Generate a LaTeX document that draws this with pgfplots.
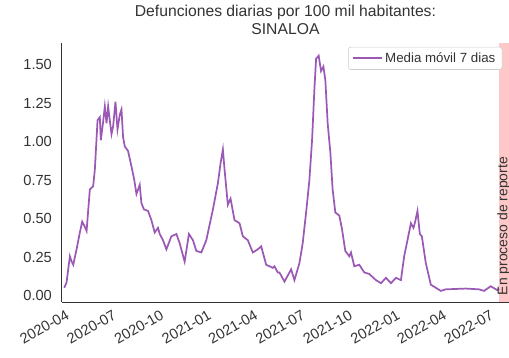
\documentclass[border=0pt]{standalone}
\usepackage{pgfplots}
\pgfplotsset{compat=1.18}
\usepackage{fontspec}
\setmainfont{Liberation Sans}
\definecolor{linea}{RGB}{155,89,182}
\definecolor{banda}{RGB}{255,200,200}
\definecolor{texto}{RGB}{51,51,51}
\begin{document}
\begin{tikzpicture}
\begin{axis}[
  scale only axis,
  width=336pt, height=195pt,
  xmin=-2, xmax=863,
  ymin=-0.045, ymax=1.643,
  axis x line*=bottom, axis y line*=left,
  axis line style={texto, line width=0.8pt},
  tick style={draw=none},
  ytick={0,0.25,0.5,0.75,1,1.25,1.5},
  yticklabel style={/pgf/number format/fixed, /pgf/number format/fixed zerofill, /pgf/number format/precision=2, xshift=-4pt},
  xtick={0,91,183,275,365,456,548,640,730,821},
  xticklabels={2020-04,2020-07,2020-10,2021-01,2021-04,2021-07,2021-10,2022-01,2022-04,2022-07},
  xticklabel style={rotate=30, anchor=north east, inner sep=1pt, yshift=-4pt},
  /pgf/number format/assume math mode=true,
  tick label style={font=\fontsize{11}{13}\selectfont, text=texto},
  title={Defunciones diarias por 100 mil habitantes:\\SINALOA},
  title style={font=\fontsize{11.8}{13.5}\selectfont, text=texto, align=center, yshift=-3pt},
  legend style={at={(0.985,0.985)}, anchor=north east, draw={rgb,255:red,204;green,204;blue,204}, rounded corners=2pt, font=\fontsize{10}{12}\selectfont, text=texto},
  legend image code/.code={\draw[#1] (0cm,0cm) -- (0.75cm,0cm);},
  legend cell align=left,
  clip=false,
]
\fill[banda] (axis cs:843,-0.045) rectangle (axis cs:863,1.643);
\addplot[linea, line width=1.3pt] coordinates {
(2.5,0.05) (7,0.084) (13.5,0.255) (17,0.22) (20,0.20) (26.4,0.30) (32.8,0.41) (37.3,0.48)
(42,0.45) (45.8,0.42) (52.1,0.69) (58.5,0.71) (61.8,0.82) (67,1.14) (71.4,1.16) (73.4,1.01)
(77.8,1.13) (81.1,1.23) (84.4,1.12) (87.5,1.23) (90.7,1.14) (94,1.05) (97.1,1.10) (101.7,1.26)
(105.6,1.08) (110,1.175) (113.3,1.21) (116.4,1.03) (119.7,0.97) (126,0.94) (132.6,0.84)
(137.6,0.76) (142.3,0.66) (148.6,0.72) (151.9,0.60) (156.9,0.56) (164.7,0.55) (171.2,0.49)
(177.6,0.41) (184,0.44) (187.3,0.40) (193.6,0.36) (200.2,0.30) (209.8,0.385) (219.5,0.40)
(225.9,0.34) (235.5,0.22) (243.8,0.40) (251.5,0.36) (258.1,0.29) (267.8,0.28) (277.4,0.36)
(290.2,0.56) (299.8,0.73) (305,0.86) (309.5,0.95) (312.7,0.82) (319.1,0.59) (324.3,0.63)
(332,0.49) (341.7,0.47) (348.1,0.385) (357.7,0.36) (367.4,0.28) (377,0.30) (383.6,0.32)
(393.2,0.20) (399.6,0.19) (406,0.18) (409.3,0.19) (415.6,0.15) (418.9,0.15) (428.6,0.09)
(441.5,0.17) (447.9,0.10) (457.5,0.21) (463.9,0.34) (470.5,0.54) (476.8,0.75) (482,1.01)
(486.5,1.34) (489.8,1.54) (494.8,1.56) (499.4,1.46) (503.9,1.49) (507.7,1.40) (512.2,1.12)
(517.4,0.93) (521.8,0.69) (527,0.54) (534.7,0.52) (540,0.43) (546.3,0.29) (554,0.255)
(557.3,0.28) (563.7,0.19) (573.3,0.20) (583,0.15) (592.6,0.14) (605.6,0.10) (615.3,0.08)
(624.9,0.115) (634.6,0.08) (644.2,0.115) (653.9,0.10) (660.2,0.255) (666.6,0.36) (673.2,0.47)
(678.2,0.44) (681.5,0.48) (685.9,0.55) (690.5,0.40) (694.4,0.385) (702.1,0.21) (711.8,0.07)
(721.4,0.05) (731.1,0.03) (740.7,0.04) (779.3,0.045) (805,0.04) (814.7,0.03) (827.6,0.06)
(840.4,0.035) (843.6,0.045)
};
\addlegendentry{Media móvil 7 dias}
\node[rotate=90, anchor=west, font=\fontsize{10.5}{12}\selectfont, text=texto, inner sep=0pt] at (axis cs:853,0.0) {En proceso de reporte};
\coordinate (sw) at (rel axis cs:0,0);
\coordinate (ne) at (rel axis cs:1,1);
\end{axis}
\pgfresetboundingbox
\path ([xshift=-46.5pt,yshift=-41.25pt]sw) rectangle ([yshift=32.25pt]ne);
\end{tikzpicture}
\end{document}
